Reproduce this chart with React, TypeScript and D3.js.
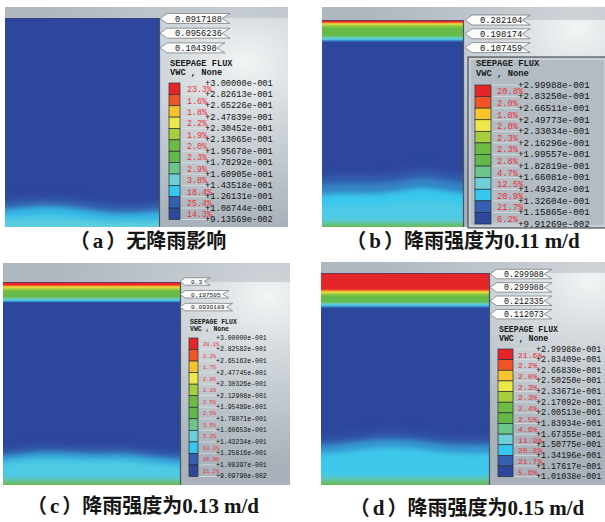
import React from "react";
import * as d3 from "d3";

const W = 605, H = 522;
type Pt = [number, number];

// legend colours, top (wettest) to bottom
const legendColors = ["#e52628", "#ef5527", "#f6c52b", "#ece84a", "#a7cf3d", "#6dbd45",
  "#63b947", "#6cc58b", "#6fcfd6", "#35c7ef", "#3460af", "#2d479c"];

// legend boundary values
const valuesA = [0.3, 0.282613, 0.265226, 0.247839, 0.230452, 0.213065, 0.195678, 0.178292, 0.160905, 0.143518, 0.126131, 0.108744, 0.0913569];
const valuesB = [0.299988, 0.28325, 0.266511, 0.249773, 0.233034, 0.216296, 0.199557, 0.182819, 0.166081, 0.149342, 0.132604, 0.115865, 0.0991269];
const valuesC = [0.3, 0.282582, 0.265163, 0.247745, 0.230326, 0.212908, 0.195489, 0.178071, 0.160653, 0.143234, 0.125816, 0.108397, 0.090979];
const valuesD = [0.299988, 0.283409, 0.26683, 0.25025, 0.233671, 0.217092, 0.200513, 0.183934, 0.167355, 0.150775, 0.134196, 0.117617, 0.101038];

// area percentages per colour band
const percentsA = [23.3, 1.6, 1.8, 2.2, 1.9, 2.0, 2.3, 2.9, 3.8, 18.4, 25.4, 14.3];
const percentsB = [20.8, 2.0, 1.8, 2.0, 2.3, 2.3, 2.8, 4.7, 12.5, 20.9, 21.7, 6.2];
const percentsC = [20.1, 2.2, 1.7, 2.0, 2.1, 2.5, 2.5, 3.5, 5.2, 10.3, 26.9, 21.2];
const percentsD = [21.6, 2.2, 2.0, 2.3, 2.3, 2.4, 2.5, 4.6, 11.9, 20.8, 21.7, 5.6];

// flag labels on the right edge of the slope
const flagsA = ["0.0917188", "0.0956236", "0.104398"];
const flagsB = ["0.282104", "0.198174", "0.107459"];
const flagsC = ["0.3", "0.197505", "0.0930189"];
const flagsD = ["0.299988", "0.299988", "0.212335", "0.112073"];

// VWC vs depth (m) below the surface
const topA: Pt[] = [[0, 0.095]];
const topB: Pt[] = [[0, 0.296], [0.18, 0.29], [0.26, 0.27], [0.38, 0.245], [0.55, 0.22], [0.8, 0.2], [1.5, 0.19], [1.7, 0.165], [1.88, 0.148], [2.0, 0.13], [2.15, 0.1]];
const topC: Pt[] = [[0, 0.296], [0.25, 0.29], [0.35, 0.27], [0.5, 0.245], [0.7, 0.22], [0.9, 0.2], [1.45, 0.19], [1.6, 0.165], [1.75, 0.148], [1.9, 0.13], [2.0, 0.1]];
const topD: Pt[] = [[0, 0.298], [1.5, 0.292], [1.65, 0.27], [1.8, 0.245], [2.0, 0.22], [2.2, 0.2], [2.7, 0.19], [2.9, 0.165], [3.05, 0.148], [3.2, 0.13], [3.35, 0.1]];

// wetting front near the base: [x (m), depth (m)]
const frontA: Pt[] = [[0, 17.3], [1.5, 17.0], [3, 16.8], [4.5, 17.0], [6, 17.4], [7.5, 17.6], [9, 17.4], [10, 17.2]];
const frontB: Pt[] = [[0, 14.6], [2, 14.3], [4, 14.5], [6, 14.0], [7, 13.8], [8.5, 14.2], [10, 14.5]];
const frontC: Pt[] = [[0, 16.4], [1.5, 16.0], [3, 15.8], [5, 16.1], [6.5, 15.9], [8, 16.3], [10, 16.6]];
const frontD: Pt[] = [[0, 15.2], [2, 14.9], [4, 14.4], [5.5, 14.6], [7, 15.0], [8.5, 15.1], [10, 15.0]];

// levels below the front: [offset (m), VWC]
const wetA: Pt[] = [[0, 0.105], [0.5, 0.118], [1.2, 0.132], [2.0, 0.142]];
const wetB: Pt[] = [[0, 0.108], [0.6, 0.12], [1.4, 0.13], [2.4, 0.142], [3.5, 0.148]];
const wetC: Pt[] = [[0, 0.105], [0.5, 0.118], [1.0, 0.13], [1.6, 0.142]];
const wetD: Pt[] = [[0, 0.112], [0.6, 0.122], [1.2, 0.135], [2.0, 0.145]];

// layers at the very base: [height above base (m), VWC]
const baseA: Pt[] = [[0.5, 0.147]];
const baseB: Pt[] = [[0.55, 0.17], [0.3, 0.19]];
const baseC: Pt[] = [[0.6, 0.165], [0.35, 0.19]];
const baseD: Pt[] = [[0.7, 0.17], [0.35, 0.19]];

const letters = ["a", "b", "c", "d"];
const captionTexts = ["无降雨影响", "降雨强度为", "降雨强度为", "降雨强度为"];
const rainfall = [null, 0.11, 0.13, 0.15];

const layouts = [
  { bg: [5, 7, 288, 227], dom: [5, 18, 159, 227], flagX: 160, flagY: 18.5, flagStep: 14.7, flagH: 10, flagFont: 8.7, flagPad: 15,
    titleX: 170, titleY: [63, 72], titleFont: 8.7, swX: 169, swW: 11, swTop: 83, swBottom: 219.5, pctX: 187, valX: 205,
    valFont: 8.7, pctFont: 8.3, frame: null, glow: [0.85, 0.25], cap: [148, 248] },
  { bg: [322, 7, 605, 227], dom: [322, 20, 463, 227], flagX: 465, flagY: 20, flagStep: 13.8, flagH: 10, flagFont: 8.8, flagPad: 15,
    titleX: 476, titleY: [63, 72.5], titleFont: 8.8, swX: 475, swW: 16, swTop: 85, swBottom: 224, pctX: 497, valX: 518,
    valFont: 9.2, pctFont: 8.8, frame: [468, 57, 607, 228], glow: [0.9, 0.1], cap: [463, 248] },
  { bg: [3, 263, 290, 485], dom: [3, 282, 180, 485], flagX: 180, flagY: 281.5, flagStep: 12.8, flagH: 7.5, flagFont: 6.2, flagPad: 11,
    titleX: 190, titleY: [321.7, 329], titleFont: 6.5, swX: 189, swW: 9, swTop: 338, swBottom: 476.5, pctX: 203, valX: 216,
    valFont: 6.5, pctFont: 5.4, frame: null, glow: [0.92, 0.15], cap: [143, 513] },
  { bg: [321, 262, 605, 485], dom: [321, 273, 489, 485], flagX: 490, flagY: 274, flagStep: 13.4, flagH: 9.5, flagFont: 8.3, flagPad: 14,
    titleX: 499, titleY: [329, 338.3], titleFont: 8.2, swX: 498, swW: 15, swTop: 349, swBottom: 476.7, pctX: 518, valX: 536,
    valFont: 8.4, pctFont: 8.1, frame: null, glow: [0.95, 0.08], cap: [467, 515] },
];

const panels = [
  { values: valuesA, percents: percentsA, flags: flagsA, top: topA, front: frontA, wet: wetA, base: baseA },
  { values: valuesB, percents: percentsB, flags: flagsB, top: topB, front: frontB, wet: wetB, base: baseB },
  { values: valuesC, percents: percentsC, flags: flagsC, top: topC, front: frontC, wet: wetC, base: baseC },
  { values: valuesD, percents: percentsD, flags: flagsD, top: topD, front: frontD, wet: wetD, base: baseD },
].map((p, i) => ({ ...p, layout: layouts[i], letter: letters[i], text: captionTexts[i], rain: rainfall[i] }));

const sci = (v: number) => {
  const [m, e] = v.toExponential(5).split("e");
  const ev = +e;
  return "+" + m + "e" + (ev < 0 ? "-" : "+") + String(Math.abs(ev)).padStart(3, "0");
};

const mono = "'Liberation Mono', 'DejaVu Sans Mono', monospace";

function Panel({ p, idx }: { p: any; idx: number }) {
  const L = p.layout;
  const [bx0, by0, bx1, by1] = L.bg;
  const [dx0, dy0, dx1, dy1] = L.dom;
  const x = d3.scaleLinear().domain([0, 10]).range([dx0, dx1]);
  const y = d3.scaleLinear().domain([0, 20]).range([dy0, dy1]);
  const xw = x.copy().range([dx0 - 12, dx1 + 12]);
  const mids = d3.range(12).map(i => (p.values[i] + p.values[i + 1]) / 2);
  const color = d3.scaleLinear<string>().domain(mids).range(legendColors).clamp(true);
  const sw = d3.scaleLinear().domain([0, 12]).range([L.swTop, L.swBottom]);
  const id = "p" + idx;

  const wetArea = (off: number) =>
    d3.area<Pt>().x(d => xw(d[0])).y0(dy1 + 12).y1(d => y(d[1] + off)).curve(d3.curveBasis)(p.front) || "";

  const flagW = (s: string) => L.flagPad + s.length * L.flagFont * 0.6 + 8;
  const flagPath = (x0: number, yc: number, w: number) => {
    const h = L.flagH / 2, tip = L.flagH * 0.7, notch = L.flagH * 0.8;
    return `M${x0},${yc} L${x0 + tip},${yc - h} L${x0 + w},${yc - h} L${x0 + w - notch},${yc} L${x0 + w},${yc + h} L${x0 + tip},${yc + h} Z`;
  };

  return (
    <g>
      <defs>
        <radialGradient id={id + "bg"} cx={L.glow[0]} cy={L.glow[1]} r="0.75">
          <stop offset="0" stopColor="#f2f5f5" />
          <stop offset="0.35" stopColor="#d3d9dd" />
          <stop offset="1" stopColor="#a9b2ba" />
        </radialGradient>
        <linearGradient id={id + "top"} x1="0" y1="0" x2="0" y2="1">
          {p.top.map((d: Pt, i: number) => (
            <stop key={i} offset={(y(d[0]) - dy0) / (dy1 - dy0)} stopColor={color(d[1])} />
          ))}
        </linearGradient>
        <clipPath id={id + "clip"}>
          <rect x={dx0} y={dy0} width={dx1 - dx0} height={dy1 - dy0} />
        </clipPath>
        <filter id={id + "blur"} x="-10%" y="-10%" width="120%" height="120%">
          <feGaussianBlur stdDeviation="2.6" />
        </filter>
      </defs>
      <rect x={bx0} y={by0} width={bx1 - bx0} height={by1 - by0} fill={`url(#${id}bg)`} />
      <rect x={bx0} y={by0} width={bx1 - bx0} height={dy0 - by0} fill="#b4bcc3" opacity={0.55} />
      <rect x={dx0} y={dy0} width={dx1 - dx0} height={dy1 - dy0} fill={`url(#${id}top)`} />
      <g clipPath={`url(#${id}clip)`}>
        <g filter={`url(#${id}blur)`}>
          {p.wet.map((d: Pt, i: number) => (
            <path key={i} d={wetArea(d[0])} fill={color(d[1])} />
          ))}
          {p.base.map((d: Pt, i: number) => (
            <rect key={i} x={dx0 - 12} y={y(20 - d[0])} width={dx1 - dx0 + 24} height={dy1 + 12 - y(20 - d[0])} fill={color(d[1])} />
          ))}
        </g>
      </g>
      <line x1={dx0} x2={dx1} y1={dy0 + 0.5} y2={dy0 + 0.5} stroke="#3a3f70" strokeOpacity={0.7} />
      <line x1={dx1 + 0.5} x2={dx1 + 0.5} y1={dy0} y2={dy1} stroke="#4a5560" strokeWidth={1.2} />

      {L.frame && (
        <g>
          <rect x={L.frame[0]} y={L.frame[1]} width={L.frame[2] - L.frame[0]} height={L.frame[3] - L.frame[1]}
            fill="#b3bcc3" stroke="#4d5358" strokeWidth={1.2} />
          <rect x={L.frame[0] + 2} y={L.frame[1] + 2} width={L.frame[2] - L.frame[0] - 4} height={L.frame[3] - L.frame[1] - 4}
            fill="none" stroke="#e6eaec" strokeWidth={0.8} />
        </g>
      )}

      {p.flags.map((s: string, i: number) => {
        const yc = L.flagY + i * L.flagStep;
        return (
          <g key={i}>
            <path d={flagPath(L.flagX, yc, flagW(s))} fill="#fbfbfb" stroke="#7c8084" strokeWidth={0.8} />
            <text x={L.flagX + L.flagPad} y={yc + L.flagFont * 0.36} fontFamily={mono} fontSize={L.flagFont} fill="#111">{s}</text>
          </g>
        );
      })}

      <text x={L.titleX} y={L.titleY[0] + L.titleFont * 0.36} fontFamily={mono} fontSize={L.titleFont} fontWeight="bold" fill="#1a1a1a">SEEPAGE FLUX</text>
      <text x={L.titleX} y={L.titleY[1] + L.titleFont * 0.36} fontFamily={mono} fontSize={L.titleFont} fontWeight="bold" fill="#1a1a1a">VWC , None</text>

      {p.values.map((v: number, i: number) => (
        <line key={"l" + i} x1={L.swX + L.swW} x2={L.valX + 2} y1={sw(i)} y2={sw(i)} stroke="#e4e8ea" strokeOpacity={0.8} strokeWidth={0.8} />
      ))}
      {legendColors.map((c, i) => (
        <rect key={"s" + i} x={L.swX} y={sw(i)} width={L.swW} height={sw(i + 1) - sw(i)} fill={c} stroke="#2b2f38" strokeWidth={0.7} />
      ))}
      {p.percents.map((v: number, i: number) => (
        <text key={"p" + i} x={L.pctX} y={(sw(i) + sw(i + 1)) / 2 + L.pctFont * 0.42} fontFamily={mono} fontSize={L.pctFont} fill="#e8303a">{v.toFixed(1) + "%"}</text>
      ))}
      {p.values.map((v: number, i: number) => (
        <text key={"v" + i} x={L.valX} y={sw(i) + L.valFont * 0.3} fontFamily={mono} fontSize={L.valFont} fill="#111">{sci(v)}</text>
      ))}

      <text x={L.cap[0]} y={L.cap[1]} textAnchor="middle" fill="#161616">
        <tspan fontFamily="'Noto Sans CJK SC'" fontSize={20} fontWeight={600}>（</tspan>
        <tspan fontFamily="'Liberation Serif'" fontSize={21} fontWeight="bold" dx={3}>{p.letter}</tspan>
        <tspan fontFamily="'Noto Sans CJK SC'" fontSize={20} fontWeight={600} dx={3}>）</tspan>
        <tspan fontFamily="'Noto Sans CJK SC'" fontSize={20} fontWeight={600}>{p.text}</tspan>
        {p.rain != null && <tspan fontFamily="'Liberation Serif'" fontSize={21} fontWeight="bold">{p.rain.toFixed(2)}</tspan>}
        {p.rain != null && <tspan fontFamily="'Liberation Serif'" fontSize={21} fontWeight="bold" dx={5}>m/d</tspan>}
      </text>
    </g>
  );
}

export default function App() {
  return (
    <svg width={W} height={H} style={{ position: "absolute", left: 0, top: 0, background: "#fff" }}>
      {panels.map((p, i) => <Panel key={i} p={p} idx={i} />)}
    </svg>
  );
}
